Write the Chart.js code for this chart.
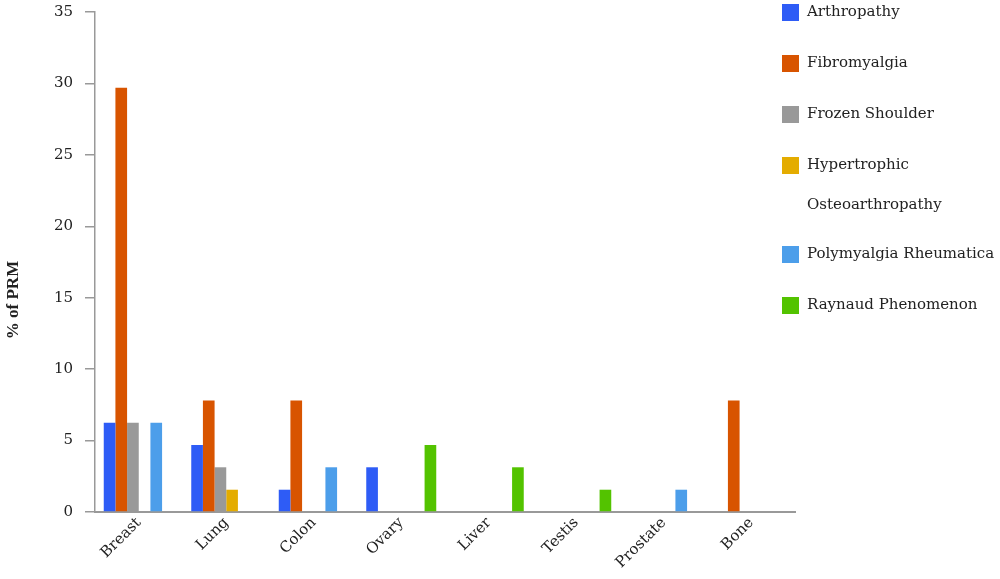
<!DOCTYPE html>
<html>
<head>
<meta charset="utf-8">
<script src="https://cdn.jsdelivr.net/npm/chart.js@4"></script>
<style>
  body { margin: 0; background: #fff; }
  #wrap { width: 1000px; height: 579px; }
</style>
</head>
<body>
<div id="wrap"><canvas id="prmChart" width="1000" height="579"></canvas></div>
<script>
const sites = ["Breast", "Lung", "Colon", "Ovary", "Liver", "Testis", "Prostate", "Bone"]
const arthropathy = [6.25, 4.69, 1.56, 3.13, 0, 0, 0, 0]
const fibromyalgia = [29.69, 7.81, 7.81, 0, 0, 0, 0, 7.81]
const frozenShoulder = [6.25, 3.13, 0, 0, 0, 0, 0, 0]
const hypertrophic = [0, 1.56, 0, 0, 0, 0, 0, 0]
const polymyalgia = [6.25, 0, 3.13, 0, 0, 0, 1.56, 0]
const raynaud = [0, 0, 0, 4.69, 3.13, 1.56, 0, 0]
const yTicks = [0, 5, 10, 15, 20, 25, 30, 35]

const fontName = "'DejaVu Serif', serif"
const textColor = "#222"

const legendPlugin = {
    id: "sideLegend",
    afterDraw(chart) {
        const ctx = chart.ctx
        ctx.save()
        ctx.font = "15px " + fontName
        ctx.textBaseline = "middle"
        let y = 12
        chart.data.datasets.forEach(ds => {
            ctx.fillStyle = ds.backgroundColor
            ctx.fillRect(782, y - 8, 17, 17)
            ctx.fillStyle = textColor
            const lines = ds.label.split("\n")
            lines.forEach((line, i) => {
                ctx.fillText(line, 807, y + i * 40)
            })
            y += 51 + (lines.length - 1) * 38
        })
        // y axis title
        ctx.translate(14, 300)
        ctx.rotate(-Math.PI / 2)
        ctx.textAlign = "center"
        ctx.font = "bold 17px 'Liberation Serif', serif"
        ctx.fillText("% of PRM", 0, 0)
        ctx.restore()
    }
}

var config = {
    type: "bar",
    data: {
        labels: sites,
        datasets: [
            {label: "Arthropathy", data: arthropathy, backgroundColor: "#2E5CF6"},
            {label: "Fibromyalgia", data: fibromyalgia, backgroundColor: "#D85400"},
            {label: "Frozen Shoulder", data: frozenShoulder, backgroundColor: "#999999"},
            {label: "Hypertrophic\nOsteoarthropathy", data: hypertrophic, backgroundColor: "#E4AC00"},
            {label: "Polymyalgia Rheumatica", data: polymyalgia, backgroundColor: "#4C9EEA"},
            {label: "Raynaud Phenomenon", data: raynaud, backgroundColor: "#53C300"}
        ]
    },
    options: {
        responsive: false,
        animation: false,
        layout: {padding: {left: 0, right: 205, top: 12, bottom: 0}},
        datasets: {bar: {categoryPercentage: 0.8, barPercentage: 1.0}},
        plugins: {legend: {display: false}, tooltip: {enabled: false}},
        scales: {
            x: {
                afterFit: scale => {
                    scale.height = 67
                    scale.paddingLeft = 0
                    scale.paddingRight = 0
                },
                grid: {display: false, drawTicks: false},
                border: {color: "#999", width: 2},
                ticks: {
                    color: textColor, font: {family: fontName, size: 15},
                    maxRotation: 45, minRotation: 45, padding: 2
                }
            },
            y: {
                min: 0, max: 35,
                afterFit: scale => {
                    scale.width = 95
                    scale.paddingTop = 0
                    scale.paddingBottom = 0
                },
                afterBuildTicks: axis => { axis.ticks = yTicks.map(v => ({value: v})) },
                grid: {drawOnChartArea: false, tickLength: 10, color: "#999", lineWidth: 1.5},
                border: {color: "#999", width: 1.5},
                ticks: {color: textColor, font: {family: fontName, size: 15}, padding: 12}
            }
        }
    },
    plugins: [legendPlugin]
}

var prmChart = new Chart(document.getElementById("prmChart"), config)
</script>
</body>
</html>
